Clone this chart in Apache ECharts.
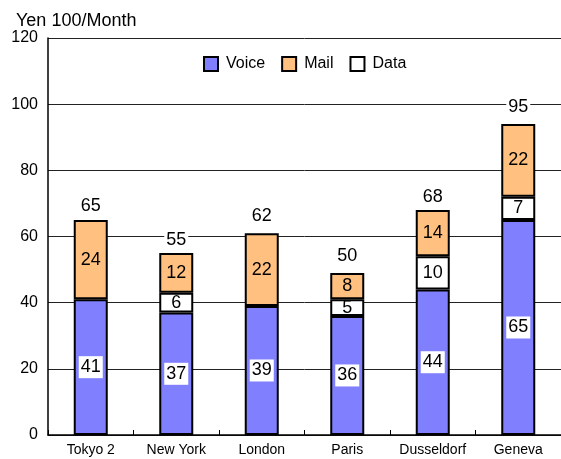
<!DOCTYPE html>
<html>
<head>
<meta charset="utf-8">
<script src="https://cdn.jsdelivr.net/npm/echarts@6/dist/echarts.min.js"></script>
<style>
  html, body { margin: 0; padding: 0; background: #fff; }
  #main { width: 561px; height: 459px; }
</style>
</head>
<body>
<div id="main"></div>
<script>
// chart data
var cities = ['Tokyo 2', 'New York', 'London', 'Paris', 'Dusseldorf', 'Geneva'];
var voice = [41, 37, 39, 36, 44, 65];
var data = ['-', 6, '-', 5, 10, 7];
var mail = [24, 12, 22, 8, 14, 22];
var totals = [65, 55, 62, 50, 68, 95];
var yTicks = [0, 20, 40, 60, 80, 100, 120];

var myChart = echarts.init(document.getElementById('main'), null, { renderer: 'canvas' });
var font = 'Liberation Sans, Arial, sans-serif';

var option = {
    animation: false,
    textStyle: { fontFamily: font },
    title: {
        text: 'Yen 100/Month',
        left: 11,
        top: 7,
        textStyle: { fontSize: 18, fontWeight: 'normal', color: '#000', fontFamily: font }
    },
    legend: {
        data: ['Voice', 'Mail', 'Data'],
        left: 198,
        top: 51,
        itemWidth: 14,
        itemHeight: 14,
        itemGap: 16,
        icon: 'rect',
        textStyle: { fontSize: 16, color: '#000', fontFamily: font, padding: [0, 0, 0, 3] }
    },
    grid: { left: 48, top: 38, bottom: 24, width: 518 },
    xAxis: {
        type: 'category',
        data: cities,
        axisLine: { lineStyle: { color: '#000', width: 1.5 } },
        axisTick: { show: true, inside: true, length: 5, lineStyle: { color: '#000' } },
        axisLabel: { interval: 0, fontSize: 14, color: '#000', margin: 8, fontFamily: font }
    },
    yAxis: {
        type: 'value',
        min: yTicks[0],
        max: yTicks[yTicks.length - 1],
        interval: 20,
        axisLine: { show: true, lineStyle: { color: '#000', width: 1.5 } },
        axisTick: { show: false },
        axisLabel: { fontSize: 16, color: '#000', margin: 10, fontFamily: font },
        splitLine: { lineStyle: { color: '#222', width: 1 } }
    },
    series: [
        {
            name: 'Voice',
            type: 'bar',
            stack: 'cost',
            data: voice,
            barWidth: 34,
            itemStyle: { color: '#8080FF', borderColor: '#000', borderWidth: 2 },
            label: {
                show: true, position: 'inside', fontSize: 18, color: '#000',
                backgroundColor: '#fff', padding: [3, 2, 1, 2], fontFamily: font
            }
        },
        {
            name: 'Data',
            type: 'bar',
            stack: 'cost',
            data: data,
            barWidth: 34,
            itemStyle: { color: '#fff', borderColor: '#000', borderWidth: 2 },
            label: {
                show: true, position: 'inside', fontSize: 18, color: '#000', fontFamily: font
            }
        },
        {
            name: 'Mail',
            type: 'bar',
            stack: 'cost',
            data: mail,
            barWidth: 34,
            itemStyle: { color: '#FFC080', borderColor: '#000', borderWidth: 2 },
            label: {
                show: true, position: 'inside', fontSize: 18, color: '#000', fontFamily: font
            }
        },
        {
            name: 'Total',
            type: 'line',
            data: totals,
            symbol: 'circle',
            symbolSize: 1,
            showSymbol: true,
            itemStyle: { color: 'rgba(0,0,0,0)' },
            lineStyle: { opacity: 0 },
            label: {
                show: true, position: 'top', distance: 4, fontSize: 18, color: '#000',
                backgroundColor: '#fff', padding: [1, 2, 0, 2], fontFamily: font
            },
            silent: true
        }
    ]
};

option && myChart.setOption(option);
</script>
</body>
</html>
